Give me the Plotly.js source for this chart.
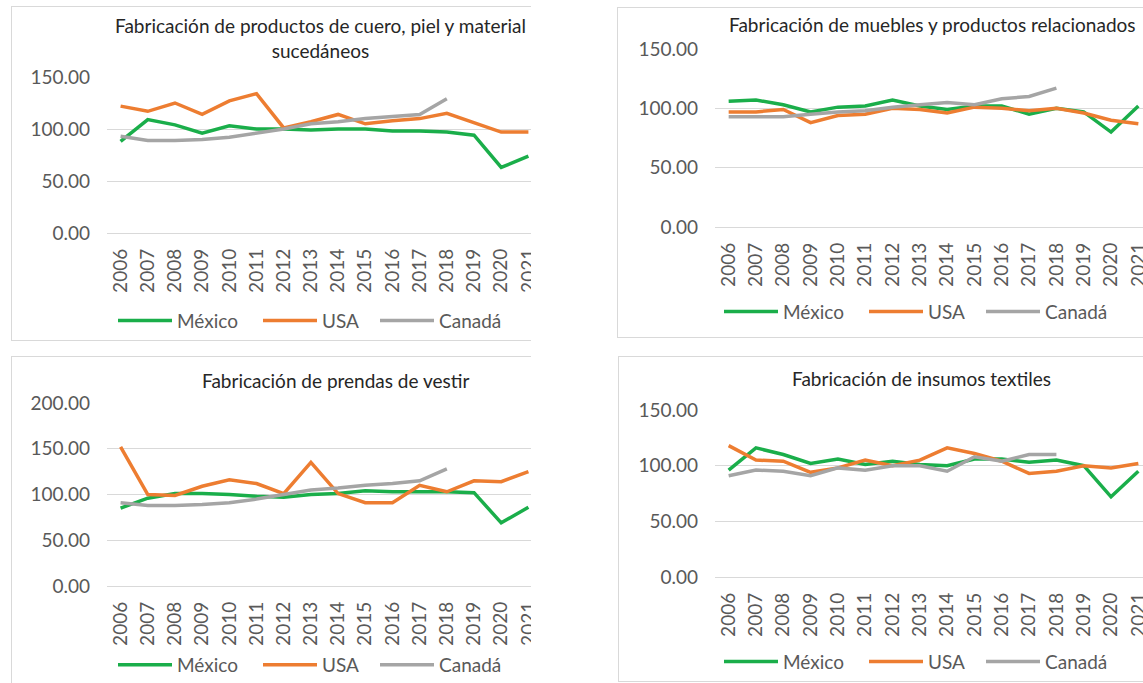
<!DOCTYPE html>
<html><head><meta charset="utf-8">
<script src="https://cdn.plot.ly/plotly-3.0.1.min.js"></script>
<style>
html,body{margin:0;padding:0;width:1143px;height:683px;overflow:hidden;background:#fff;}
.clip{position:absolute;overflow:hidden;}
.frame{position:absolute;border:1px solid #d9d9d9;box-sizing:border-box;}
.plot{position:absolute;left:0;top:0;}
</style></head><body>
<div id="c1" class="clip"></div>
<div id="c2" class="clip"></div>
<div id="c3" class="clip"></div>
<div id="c4" class="clip"></div>
<script>
const years = ['2006','2007','2008','2009','2010','2011','2012','2013','2014','2015','2016','2017','2018','2019','2020','2021'];
const seriesNames = ['México','USA','Canadá'];

// Fabricación de productos de cuero, piel y materiales sucedáneos
const cueroMexico = [88,109,104,96,103,100,100,99,100,100,98,98,97,94,63,74];
const cueroUSA    = [122,117,125,114,127,134,101,107,114,105,108,110,115,106,97,97];
const cueroCanada = [93,89,89,90,92,96,100,105,107,110,112,114,129,null,null,null];

// Fabricación de muebles y productos relacionados
const mueblesMexico = [106,107,103,97,101,102,107,102,99,102,102,95,100,97,80,102];
const mueblesUSA    = [97,97,99,88,94,95,100,99,96,101,100,98,100,96,90,87];
const mueblesCanada = [93,93,93,95,97,98,101,103,105,103,108,110,117,null,null,null];

// Fabricación de prendas de vestir
const prendasMexico = [85,96,101,101,100,98,97,100,101,104,103,103,103,102,69,86];
const prendasUSA    = [152,100,99,109,116,112,101,135,101,91,91,110,103,115,114,125];
const prendasCanada = [91,88,88,89,91,95,100,105,107,110,112,115,128,null,null,null];

// Fabricación de insumos textiles
const textilesMexico = [96,116,110,102,106,101,104,101,100,106,106,103,105,100,72,95];
const textilesUSA    = [118,105,104,94,98,105,100,105,116,111,104,93,95,100,98,102];
const textilesCanada = [91,96,95,91,98,96,100,100,95,108,104,110,110,null,null,null];

const titles = [
  'Fabricación de productos de cuero, piel y material<br>sucedáneos',
  'Fabricación de muebles y productos relacionados',
  'Fabricación de prendas de vestir',
  'Fabricación de insumos textiles'
];

const colors = ['#1aae4a','#ed7d31','#a5a5a5'];
const FONT = 'Lato, "Open Sans", sans-serif';

// layout geometry (page pixels)
const panels = [
  {id:'c1', cx:0, cy:0, cw:531, ch:347, W:640, H:400, L:107, R:542, T:77.3, B:233.3,
   frame:[11,6,650,335], ymax:150, tx:320, ty:38.5, txa:'center', ly:321, lx:[118,263,380],
   data:[cueroMexico,cueroUSA,cueroCanada], title:titles[0]},
  {id:'c2', cx:600, cy:0, cw:543, ch:347, W:640, H:400, L:715, R:1152, T:49.3, B:226.7,
   frame:[617,7,570,331], ymax:150, tx:727, ty:25, txa:'left', ly:311, lx:[724,869,986],
   data:[mueblesMexico,mueblesUSA,mueblesCanada], title:titles[1]},
  {id:'c3', cx:0, cy:347, cw:531, ch:336, W:640, H:400, L:107, R:542, T:403, B:586,
   frame:[11,356,650,340], ymax:200, tx:335, ty:380, txa:'center', ly:665, lx:[118,263,380],
   data:[prendasMexico,prendasUSA,prendasCanada], title:titles[2]},
  {id:'c4', cx:600, cy:347, cw:543, ch:336, W:640, H:400, L:715, R:1152, T:410, B:577.3,
   frame:[618,356,570,326], ymax:150, tx:921, ty:378, txa:'center', ly:662, lx:[724,869,986],
   data:[textilesMexico,textilesUSA,textilesCanada], title:titles[3]}
];

panels.forEach(p => {
  const c = document.getElementById(p.id);
  c.style.left = p.cx + 'px'; c.style.top = p.cy + 'px';
  c.style.width = p.cw + 'px'; c.style.height = p.ch + 'px';
  const f = document.createElement('div');
  f.className = 'frame';
  f.style.left = (p.frame[0]-p.cx)+'px'; f.style.top = (p.frame[1]-p.cy)+'px';
  f.style.width = p.frame[2]+'px'; f.style.height = p.frame[3]+'px';
  c.appendChild(f);
  const d = document.createElement('div');
  d.className = 'plot';
  c.appendChild(d);

  const px = v => (v - p.L)/(p.R - p.L);
  const py = v => (p.B - v)/(p.B - p.T);
  const legendKeys = ['legend','legend2','legend3'];

  const traces = p.data.map((ys,i) => ({
    x: years, y: ys, type:'scatter', mode:'lines', name: seriesNames[i],
    line:{color:colors[i], width:3.5}, legend: legendKeys[i],
    hoverinfo:'skip', connectgaps:false
  }));

  const layout = {
    width:p.W, height:p.H,
    margin:{l:p.L-p.cx, r:p.cx+p.W-p.R, t:p.T-p.cy, b:p.cy+p.H-p.B, pad:0, autoexpand:false},
    paper_bgcolor:'rgba(0,0,0,0)', plot_bgcolor:'rgba(0,0,0,0)',
    font:{family:FONT, size:19, color:'#595959'},
    showlegend:true,
    xaxis:{type:'category', range:[-0.5,15.5], showgrid:false, showline:false, zeroline:false,
      tickangle:-90, ticks:'', tickfont:{family:FONT, size:19, color:'#595959'},
      ticklabelstandoff:11, fixedrange:true, automargin:false},
    yaxis:{range:[0,p.ymax], dtick:50, tick0:0, tickformat:'.2f', showgrid:true,
      gridcolor:'#d9d9d9', gridwidth:1, zeroline:true, zerolinecolor:'#d9d9d9', zerolinewidth:1,
      showline:false, ticks:'', tickfont:{family:FONT, size:19, color:'#595959'},
      ticklabelstandoff:16, fixedrange:true, automargin:false},
    annotations:[{text:p.title, xref:'paper', yref:'paper', x:px(p.tx), y:py(p.ty),
      xanchor:p.txa, yanchor:'middle', showarrow:false, align:'center',
      font:{family:FONT, size:19, color:'#262626'}}]
  };
  legendKeys.forEach((k,i) => {
    layout[k] = {orientation:'h', x:px(p.lx[i]-5), y:py(p.ly), xanchor:'left', yanchor:'middle',
      bgcolor:'rgba(0,0,0,0)', borderwidth:0, itemwidth:54,
      font:{family:FONT, size:19, color:'#595959'}};
  });
  Plotly.newPlot(d, traces, layout, {displayModeBar:false, staticPlot:true});
});
</script>
</body></html>
